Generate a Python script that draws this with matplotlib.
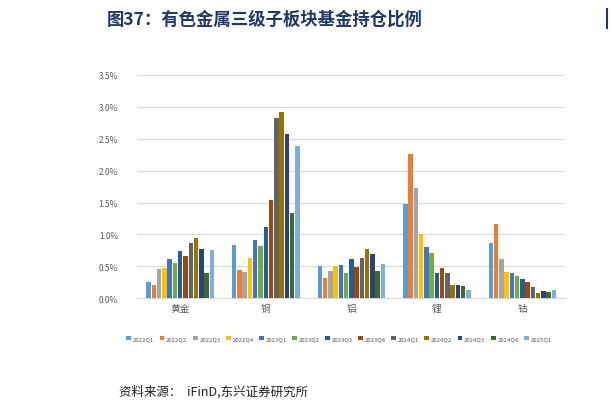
import matplotlib
matplotlib.use("Agg")
import matplotlib.pyplot as plt
import numpy as np
plt.rcParams['font.family'] = ['Noto Sans CJK SC', 'DejaVu Sans']

categories = ['黄金', '铜', '铝', '锂', '钴']
series = ['2022Q1','2022Q2','2022Q3','2022Q4','2023Q1','2023Q2','2023Q3','2023Q4','2024Q1','2024Q2','2024Q3','2024Q4','2025Q1']
values = {
    '黄金': [.26,.21,.46,.47,.62,.55,.74,.66,.86,.95,.78,.40,.76],
    '铜':   [.84,.44,.41,.63,.91,.82,1.11,1.54,2.83,2.92,2.57,1.34,2.38],
    '铝':   [.51,.32,.43,.51,.52,.39,.61,.49,.63,.77,.70,.43,.54],
    '锂':   [1.48,2.26,1.72,1.00,.80,.71,.40,.48,.40,.21,.21,.19,.13],
    '钴':   [.87,1.16,.62,.41,.39,.35,.31,.25,.18,.09,.12,.10,.13],
}
colors = ['#5B9BD5','#ED7D31','#A5A5A5','#FFC000','#4472C4','#70AD47','#255E91',
          '#9E480E','#636363','#997300','#264478','#43682B','#7CAFDD']

fig = plt.figure(figsize=(6.11, 4.10), dpi=100)
ax = fig.add_axes([0.225, 0.27, 0.70, 0.545])
n = len(series)
w = 0.8 / n
x = np.arange(len(categories))
for i, s in enumerate(series):
    ax.bar(x - 0.4 + w*(i+0.5), [values[c][i] for c in categories], w*0.85,
           color=colors[i], label=s, zorder=3)
ax.set_ylim(0, 3.5)
ax.set_xlim(-0.5, len(categories)-0.5)
ax.set_yticks(np.arange(0, 3.51, 0.5))
ax.set_yticklabels([f'{v:.1f}%' for v in np.arange(0, 3.51, 0.5)], fontsize=6, color='#595959')
ax.set_xticks(x)
ax.set_xticklabels(categories, fontsize=7, color='#595959')
ax.tick_params(length=0)
ax.grid(axis='y', color='#D9D9D9', lw=0.8, zorder=0)
for sp in ax.spines.values():
    sp.set_visible(False)
ax.spines['bottom'].set_visible(True)
ax.spines['bottom'].set_color('#D9D9D9')
ax.yaxis.set_tick_params(pad=14)
leg = fig.legend(loc='center', bbox_to_anchor=(0.555, 0.172), ncol=13, fontsize=4.3,
                 frameon=False, handlelength=0.8, handleheight=0.8, columnspacing=0.9,
                 handletextpad=0.3, labelcolor='#595959')
fig.text(0.175, 0.952, '图37：有色金属三级子板块基金持仓比例', fontsize=12.5, fontweight='bold',
         color='#1F3864', va='center')
fig.add_artist(plt.Line2D([0.993, 0.993], [0.93, 0.975], color='#1F3864', lw=1.5))
fig.text(0.195, 0.045, '资料来源：  iFinD,东兴证券研究所', fontsize=9, style='italic', color='#222222', va='center')
fig.savefig('out.png', dpi=100, facecolor='white')
